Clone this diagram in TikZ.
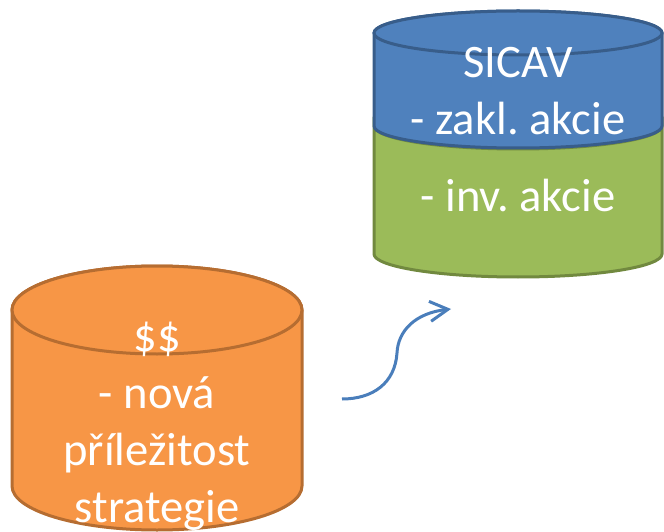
\documentclass[tikz,border=0pt]{standalone}
\usepackage{fontspec}
\setmainfont{Carlito}
\usepackage{tikz}
\usetikzlibrary{arrows.meta}
\frenchspacing

\definecolor{orangefill}{HTML}{F79646}
\definecolor{orangeline}{HTML}{B66D31}
\definecolor{bluefill}{HTML}{4F81BD}
\definecolor{blueline}{HTML}{385D8A}
\definecolor{greenfill}{HTML}{9BBB59}
\definecolor{greenline}{HTML}{71893F}
\definecolor{arrowblue}{HTML}{4A7EBB}

\begin{document}
\begin{tikzpicture}[x=1pt, y=1pt,
        labeltext/.style={text=white, align=center, inner sep=0pt,
            font=\fontsize{46.6}{57}\selectfont}]
        \useasboundingbox (0,0) rectangle (664,531);

        % orange cylinder
        \draw[line width=3pt, fill=orangefill, draw=orangeline] (12,221) -- (12,45)
            arc[start angle=180, end angle=360, x radius=145, y radius=44] -- (302,221)
            arc[start angle=0, end angle=180, x radius=145, y radius=44] -- cycle;
        \draw[line width=3pt, fill=orangefill, draw=orangeline] (157,221) ellipse[x radius=145, y radius=44];

        % green part
        \draw[line width=3pt, fill=greenfill, draw=greenline] (374,405) -- (374,277)
            arc[start angle=180, end angle=360, x radius=144, y radius=23] -- (662,405)
            arc[start angle=360, end angle=180, x radius=144, y radius=23] -- cycle;
        % blue part
        \draw[line width=3pt, fill=bluefill, draw=blueline] (374,498) -- (374,405)
            arc[start angle=180, end angle=360, x radius=144, y radius=22] -- (662,498)
            arc[start angle=0, end angle=180, x radius=144, y radius=22] -- cycle;
        \draw[line width=3pt, fill=bluefill, draw=blueline] (518,498) ellipse[x radius=144, y radius=22];

        \node[labeltext, anchor=base] (sicav) at (518,396) {SICAV\\- zakl. akcie};
        \node[labeltext, anchor=base] (invakcie) at (518,319) {- inv. akcie};
        \node[labeltext, anchor=base] (savings) at (157,9) {\$\$\\- nová\\příležitost\\strategie};

        \coordinate (arrowstart) at (342,132);
        \coordinate (arrowend) at (451,222);
        \draw[line width=3pt, arrowblue, -{Straight Barb[length=18pt, width=20pt, line width=3pt]}] (arrowstart)
            .. controls (373,132) and (395,148) .. (397,178)
            .. controls (398,200) and (415,218) .. (arrowend);
\end{tikzpicture}
\end{document}
